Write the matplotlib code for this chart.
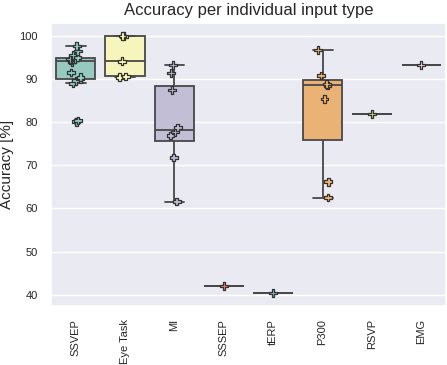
import numpy as np
import pandas as pd
import seaborn as sns
import matplotlib.pyplot as plt

categories = ["SSVEP", "Eye Task", "MI", "SSSEP", "tERP", "P300", "RSVP", "EMG"]

ssvep = [80.1, 80.4, 89.0, 89.6, 90.0, 90.4, 91.5, 93.9, 94.4, 94.5, 94.6, 94.7, 95.0, 95.6, 96.5, 97.7]
eye_task = [90.4, 90.6, 94.1, 99.9, 100.0]
mi = [61.6, 71.8, 76.9, 77.7, 78.8, 87.5, 91.4, 93.2]
sssep = [42.1]
terp = [40.4]
p300 = [62.5, 66.2, 85.4, 88.5, 88.8, 90.8, 96.7]
rsvp = [81.8]
emg = [93.3]

values = [ssvep, eye_task, mi, sssep, terp, p300, rsvp, emg]

rows = []
for name, vals in zip(categories, values):
    for v in vals:
        rows.append({"Input type": name, "Accuracy": v})
df = pd.DataFrame(rows)

sns.set_theme(style="darkgrid")
plt.rcParams['font.family'] = ['Liberation Sans', 'DejaVu Sans']

fig, ax = plt.subplots(figsize=(4.47, 3.65), dpi=100)
fig.subplots_adjust(left=0.114, right=0.998, bottom=0.162, top=0.937)

sns.boxplot(data=df, x="Input type", y="Accuracy", hue="Input type",
            order=categories, palette="Set3", legend=False,
            linecolor="#484848", linewidth=1.3, fliersize=3, ax=ax)
np.random.seed(3)
sns.stripplot(data=df, x="Input type", y="Accuracy", hue="Input type",
              order=categories, palette="Set3", legend=False, marker="P",
              size=5.5, linewidth=0.9, edgecolor="#333333", jitter=0.12, ax=ax)

ax.set_title("Accuracy per individual input type", fontsize=12)
ax.set_xlabel("")
ax.set_ylabel("Accuracy [%]", fontsize=11)
ax.tick_params(axis="x", labelrotation=90, labelsize=8)
ax.tick_params(axis="y", labelsize=8)

fig.savefig("out.png")
